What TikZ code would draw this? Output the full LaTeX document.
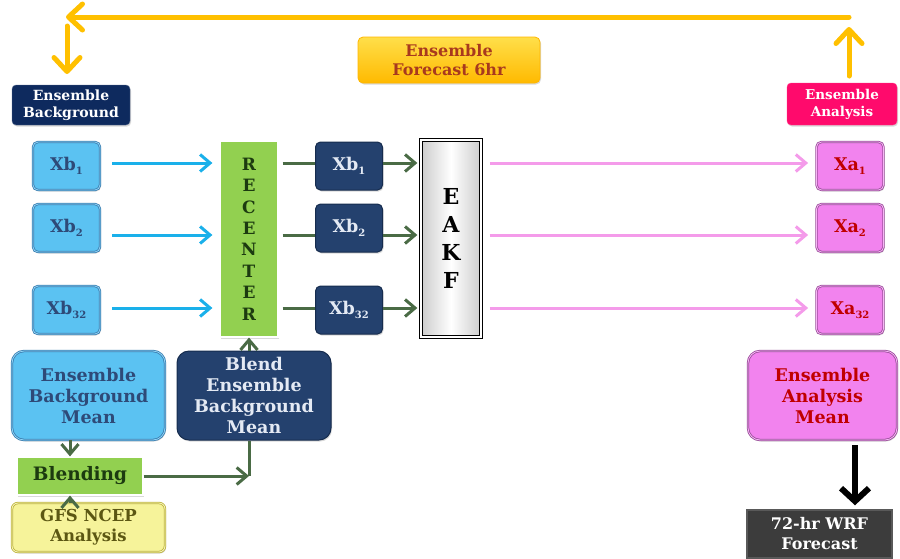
\documentclass[tikz,border=0pt]{standalone}
\usepackage{fontspec}
\setmainfont{DejaVu Serif}
\usetikzlibrary{arrows.meta,shadows,calc}
\definecolor{gold}{HTML}{FFC000}
\definecolor{goldlight}{HTML}{FFDF4A}
\definecolor{brick}{HTML}{A8391E}
\definecolor{navy}{HTML}{0E2A5E}
\definecolor{hotpink}{HTML}{FF0A6C}
\definecolor{skyfill}{HTML}{5BC2F2}
\definecolor{skyedge}{HTML}{3A7DB0}
\definecolor{skyinner}{HTML}{8FD5F7}
\definecolor{skytext}{HTML}{2E4A78}
\definecolor{deepblue}{HTML}{24416E}
\definecolor{deepedge}{HTML}{162C4E}
\definecolor{lightink}{HTML}{E4EAF4}
\definecolor{orchid}{HTML}{F283EE}
\definecolor{orchidedge}{HTML}{9A4E9A}
\definecolor{redink}{HTML}{C00000}
\definecolor{leaf}{HTML}{92D050}
\definecolor{leafink}{HTML}{1C3A10}
\definecolor{sage}{HTML}{4A6B45}
\definecolor{cream}{HTML}{F6F39A}
\definecolor{creamedge}{HTML}{BDB33C}
\definecolor{olive}{HTML}{5C5713}
\definecolor{cyanline}{HTML}{1AB0EA}
\definecolor{pinkline}{HTML}{F49BEA}
\definecolor{charcoal}{HTML}{3C3C3C}
% small lowered member index
\newcommand{\idx}[1]{\raisebox{-0.45ex}{\fontsize{10}{10}\selectfont #1}}
\tikzset{
  shadowed/.style={drop shadow={opacity=0.3,shadow xshift=1pt,shadow yshift=-1.5pt}},
  box/.style={shadowed, rounded corners=5pt, align=center, inner sep=0pt, font=\bfseries},
  skybox/.style={box, fill=skyfill, draw=skyedge, line width=0.8pt, double=skyinner, double distance=0.8pt, text=skytext},
  deepbox/.style={box, fill=deepblue, draw=deepedge, line width=1pt, text=lightink},
  orchidbox/.style={box, fill=orchid, draw=orchidedge, line width=0.8pt, double=orchid!60!white, double distance=0.8pt, text=redink},
  small/.style={minimum width=67pt, minimum height=48pt, font=\bfseries\fontsize{17.5}{19}\selectfont},
  big/.style={rounded corners=12pt, font=\bfseries\fontsize{17.5}{21}\selectfont},
  leafbox/.style={shadowed, fill=leaf, draw=white, line width=1.2pt, align=center, inner sep=0pt, text=leafink},
  goldarr/.style={draw=gold, line width=5pt, line cap=round, -{Straight Barb[length=14pt,width=26pt,round]}},
  goldline/.style={draw=gold, line width=5pt},
  cyanarr/.style={draw=cyanline, line width=3pt, -{Straight Barb[length=10pt,width=17pt]}},
  sagearr/.style={draw=sage, line width=3pt, -{Straight Barb[length=10pt,width=17pt]}},
  sageline/.style={draw=sage, line width=3pt},
  pinkarr/.style={draw=pinkline, line width=3pt, -{Straight Barb[length=10pt,width=17pt]}},
  blackarr/.style={draw=black, line width=6pt, -{Straight Barb[length=13pt,width=28pt]}},
}
\begin{document}
\begin{tikzpicture}[x=1pt,y=-1pt]
\useasboundingbox (0,0) rectangle (900,558);

% header boxes
\node[box, minimum width=182pt, minimum height=46pt, top color=goldlight, bottom color=gold!90!orange, draw=gold!85!orange, line width=0.8pt, text=brick, font=\bfseries\fontsize{16}{19}\selectfont] (ef) at (449,60) {Ensemble\\Forecast 6hr};
\node[box, rounded corners=4pt, minimum width=118pt, minimum height=40pt, fill=navy, draw=navy!70!white, text=white, font=\bfseries\fontsize{14}{17}\selectfont] (ebg) at (71,105) {Ensemble\\Background};
\node[box, rounded corners=4pt, minimum width=110pt, minimum height=42pt, fill=hotpink, draw=hotpink!80!white, text=white, font=\bfseries\fontsize{13.5}{17}\selectfont] (ean) at (842,104) {Ensemble\\Analysis};

% background members
\node[skybox, small] (xb1) at (66.5,166) {Xb\idx{1}};
\node[skybox, small] (xb2) at (66.5,228) {Xb\idx{2}};
\node[skybox, small] (xb32) at (66.5,310) {Xb\idx{32}};

% recentering column
\node[leafbox, minimum width=58pt, minimum height=196pt, font=\bfseries\fontsize{17}{21.4}\selectfont] (rec) at (249,239) {R\\E\\C\\E\\N\\T\\E\\R};

% recentered members
\node[deepbox, small] (db1) at (349,166) {Xb\idx{1}};
\node[deepbox, small] (db2) at (349,228) {Xb\idx{2}};
\node[deepbox, small] (db32) at (349,310) {Xb\idx{32}};

% filter
\node[shadowed, minimum width=60pt, minimum height=197pt, left color=gray!40, right color=gray!40, middle color=white, draw=black, line width=1.3pt, double=white, double distance=1.4pt, align=center, inner sep=0pt, font=\bfseries\fontsize{22}{28}\selectfont] (eakf) at (451,238.5) {E\\A\\K\\F};

% analysis members
\node[orchidbox, small] (xa1) at (850,166) {Xa\idx{1}};
\node[orchidbox, small] (xa2) at (850,228) {Xa\idx{2}};
\node[orchidbox, small] (xa32) at (850,310) {Xa\idx{32}};

% lower boxes
\node[skybox, big, minimum width=153pt, minimum height=89pt] (ebm) at (88.5,395.5) {Ensemble\\Background\\Mean};
\node[deepbox, big, minimum width=154pt, minimum height=89pt] (bebm) at (254,395.5) {Blend\\Ensemble\\Background\\Mean};
\node[leafbox, minimum width=126pt, minimum height=38pt, font=\bfseries\fontsize{18.5}{20}\selectfont] (blend) at (80,476) {Blending};
\node[box, rounded corners=6pt, minimum width=153pt, minimum height=49pt, fill=cream, draw=creamedge, line width=0.8pt, double=cream!60!white, double distance=0.8pt, text=olive, font=\bfseries\fontsize{16.5}{20}\selectfont] (gfs) at (88.5,527.5) {GFS NCEP\\Analysis};
\node[orchidbox, big, minimum width=149pt, minimum height=89pt] (eam) at (822.5,395.5) {Ensemble\\Analysis\\Mean};
\node[shadowed, minimum width=145pt, minimum height=48pt, fill=charcoal, draw=gray!70!black, line width=1.5pt, text=white, align=center, inner sep=0pt, font=\bfseries\fontsize{16}{20}\selectfont] (wrf) at (819.5,534) {72-hr WRF\\Forecast};

% cycling loop across the top
\coordinate (tr) at (849,17);
\coordinate (tl) at (66,17);
\coordinate (upfoot) at (849,76);
\coordinate (uptip) at (849,27);
\coordinate (downtop) at (67,26);
\coordinate (downtip) at (67,74);
\draw[goldarr] (tr) -- (tl);
\draw[goldarr] (upfoot) -- (uptip);
\draw[goldarr] (downtop) -- (downtip);

% member rows
\coordinate (r1) at (0,163);
\coordinate (r2) at (0,235);
\coordinate (r3) at (0,308);
\foreach \a/\b/\r in {xb1/db1/r1, xb2/db2/r2, xb32/db32/r3}{
  \draw[cyanarr, shorten <=12pt, shorten >=7pt] (\a.east |- \r) -- (rec.west |- \r);
  \draw[sageline, shorten <=4pt] (rec.east |- \r) -- (\b.west |- \r);
  \draw[sagearr, shorten >=3pt] (\b.east |- \r) -- (eakf.west |- \r);
}
\foreach \r/\b in {r1/xa1, r2/xa2, r3/xa32}{
  \draw[pinkarr, shorten <=8pt, shorten >=8pt] (eakf.east |- \r) -- (\b.west |- \r);
}

% mean blending path
\coordinate (xs) at (70,0);
\coordinate (bc) at (rec.south |- blend.east);
\draw[sagearr] (bebm.north -| rec.south) -- (rec.south);
\draw[sageline] (bebm.south -| rec.south) -- (bc);
\draw[sagearr] (blend.east) -- (bc);
\draw[sagearr] (ebm.south -| xs) -- (blend.north -| xs);
\draw[sagearr] (gfs.north -| xs) -- (blend.south -| xs);

% forecast step
\coordinate (bx) at (855,0);
\draw[blackarr, shorten <=5pt, shorten >=4pt] (eam.south -| bx) -- (wrf.north -| bx);
\end{tikzpicture}
\end{document}
